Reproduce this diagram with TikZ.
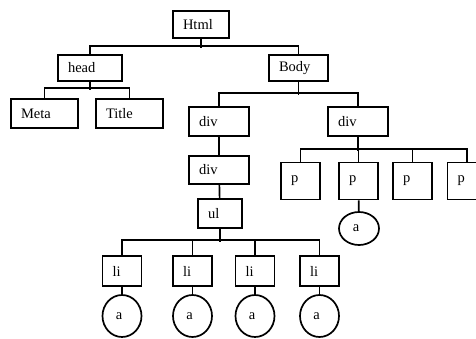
\documentclass[tikz,border=0pt]{standalone}
\usepackage{fontspec}
\setmainfont{Liberation Serif}
\usetikzlibrary{shapes.geometric}
\tikzset{
  box/.style 2 args={draw, line width=1.7pt, text width=#1, minimum height=#2,
    inner xsep=10pt, inner ysep=0pt, align=left},
  leaf/.style 2 args={draw, ellipse, line width=1.7pt, minimum width=#1,
    minimum height=#2, inner sep=0pt},
  edge/.style={line width=1.7pt},
}
% anchor letter set a little left of the ellipse centre
\newcommand{\anchortext}{a\kern6pt}
\begin{document}
\begin{tikzpicture}[x=1pt, y=-1pt, font=\fontsize{14.5}{16}\selectfont]
\useasboundingbox (0,0) rectangle (476,339);
\clip (0,0) rectangle (476,339);

% root and head branch
\node[box={36pt}{27pt}] (html) at (201,24.5) {Html};
\node[box={44pt}{26pt}] (head) at (90,68) {head};
\node[box={47pt}{29pt}] (meta) at (44.5,113.5) {Meta};
\node[box={47pt}{29pt}] (title) at (129.5,113.5) {Title};

% body branch
\node[box={39pt}{26pt}] (body) at (298.5,68) {Body};
\node[box={40pt}{29pt}] (divA) at (219,121.5) {div};
\node[box={40pt}{29pt}] (divB) at (358,121.5) {div};
\node[box={40pt}{28pt}] (divC) at (219,170) {div};
\node[box={24pt}{29pt}] (ul) at (220,213.5) {ul};

% list items with their anchors
\node[box={19pt}{30pt}] (li1) at (122,271) {li};
\node[box={19pt}{30pt}] (li2) at (192.5,271) {li};
\node[box={19pt}{30pt}] (li3) at (255,271) {li};
\node[box={19pt}{30pt}] (li4) at (319.5,271) {li};
\node[leaf={39pt}{42pt}] (a1) at (122,316) {\anchortext};
\node[leaf={39pt}{42pt}] (a2) at (192.5,316) {\anchortext};
\node[leaf={39pt}{42pt}] (a3) at (255,316) {\anchortext};
\node[leaf={39pt}{42pt}] (a4) at (319.5,316) {\anchortext};

% paragraphs
\node[box={19pt}{37pt}] (p1) at (300.5,181) {p};
\node[box={19pt}{37pt}] (p2) at (358.5,181) {p};
\node[box={19pt}{37pt}] (p3) at (412.5,181) {p};
\node[box={19pt}{37pt}] (p4) at (467,181) {p};
\node[leaf={40pt}{33pt}] (a5) at (359,228.5) {\anchortext};

% connectors
\draw[edge] (html.south) -- ++(0,9);
\draw[edge] (head.north) -- ++(0,-8) -| (body.north);

\draw[edge] (head.south) -- ++(0,8);
\draw[edge] (meta.north) -- ++(0,-10) -| (title.north);

\draw[edge] (body.south) -- ++(0,13);
\draw[edge] (divA.north) -- ++(0,-13) -| (divB.north);

\draw[edge] (divA) -- (divC);
\draw[edge] (divC) -- (ul);

\draw[edge] (ul.south) -- ++(0,13);
\draw[edge] (li1.north) -- ++(0,-15) -| (li4.north);
\draw[edge] (li2.north) -- ++(0,-15);
\draw[edge] (li3.north) -- ++(0,-15);
\draw[edge] (li1) -- (a1);
\draw[edge] (li2) -- (a2);
\draw[edge] (li3) -- (a3);
\draw[edge] (li4) -- (a4);

\draw[edge] (divB.south) -- ++(0,14);
\draw[edge] (p1.north) -- ++(0,-12.5) -| (p4.north);
\draw[edge] (p2.north) -- ++(0,-12.5);
\draw[edge] (p3.north) -- ++(0,-12.5);
\draw[edge] (p2) -- (a5);
\end{tikzpicture}
\end{document}
